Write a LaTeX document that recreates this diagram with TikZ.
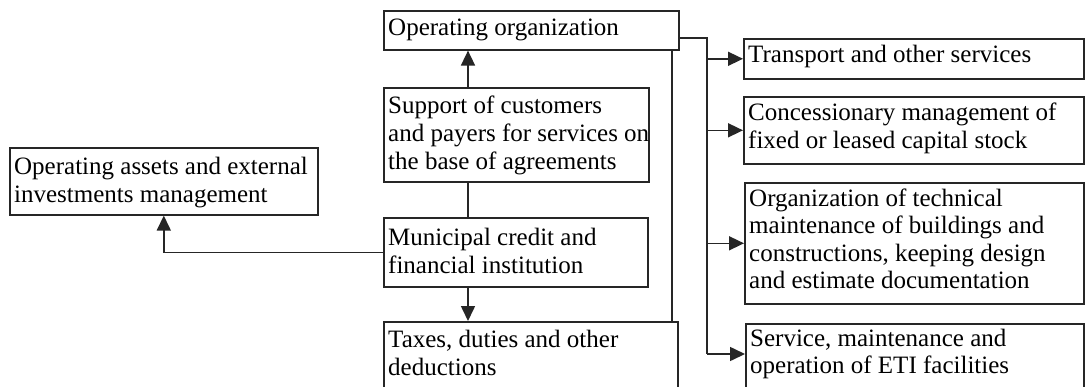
\documentclass[tikz,border=0pt]{standalone}
\usepackage{fontspec}
\setmainfont{Liberation Serif}
\usetikzlibrary{arrows.meta,calc}
\begin{document}
\begin{tikzpicture}[x=1pt,y=-1pt,
  box/.style={draw=black!85, line width=1.6pt, inner sep=0pt, anchor=north west},
  txt/.style={inner sep=0pt, anchor=north west, align=left, text=black,
    font=\fontsize{25}{28}\selectfont},
  conn/.style={draw=black!85, line width=1.6pt},
  arr/.style={conn, -{Triangle[length=15pt,width=14pt]}}]
\useasboundingbox (0,0) rectangle (1085,386);
\fill[white] (0,0) rectangle (1085,386);
\clip (0,0) rectangle (1085,386);
% boxes
\node[box, minimum width=295pt, minimum height=39pt] (oo) at (383,10) {};
\node[box, minimum width=265pt, minimum height=94pt] (sup) at (383,87) {};
\node[box, minimum width=264pt, minimum height=69pt] (mun) at (383,217) {};
\node[box, minimum width=294pt, minimum height=75pt] (tax) at (383,321) {};
\node[box, minimum width=308pt, minimum height=67pt] (ast) at (9,147) {};
\node[box, minimum width=340pt, minimum height=40pt] (trn) at (743,38) {};
\node[box, minimum width=340pt, minimum height=67pt] (con) at (743,96) {};
\node[box, minimum width=339pt, minimum height=121pt] (org) at (744,182) {};
\node[box, minimum width=338pt, minimum height=75pt] (srv) at (745,323) {};
% texts (first baseline = strut top + 19.6)
\node[txt] (oo-t) at ($(oo.north west)+(5,25-19.6)$) {\strut Operating organization};
\node[txt] (sup-t) at ($(sup.north west)+(5,26-19.6)$) {\strut Support of customers\\and payers for services on\\the base of agreements};
\node[txt] (mun-t) at ($(mun.north west)+(5,28-19.6)$) {\strut Municipal credit and\\financial institution};
\node[txt] (tax-t) at ($(tax.north west)+(5,26-19.6)$) {\strut Taxes, duties and other\\deductions};
\node[txt] (ast-t) at ($(ast.north west)+(5,27-19.6)$) {\strut Operating assets and external\\investments management};
\node[txt] (trn-t) at ($(trn.north west)+(5,24-19.6)$) {\strut Transport and other services};
\node[txt] (con-t) at ($(con.north west)+(5,24-19.6)$) {\strut Concessionary management of\\fixed or leased capital stock};
\node[txt, font=\fontsize{25}{27.5}\selectfont] (org-t) at ($(org.north west)+(5,24-19.25)$) {\strut Organization of technical\\maintenance of buildings and\\constructions, keeping design\\and estimate documentation};
\node[txt, font=\fontsize{25}{27.5}\selectfont] (srv-t) at ($(srv.north west)+(5,23-19.25)$) {\strut Service, maintenance and\\operation of ETI facilities};
% helper coordinates
\coordinate (cx) at (468,0);
\coordinate (vx) at (672,0);
\coordinate (bx) at (707,38);
\coordinate (sa) at ($(srv.north west)+(0,31)$);
% connectors
\draw[arr] (sup.north -| cx) -- (oo.south -| cx);
\draw[conn] (sup.south -| cx) -- (mun.north -| cx);
\draw[arr] (mun.south -| cx) -- (tax.north -| cx);
\draw[arr] (mun.west) -| (ast.south);
\draw[conn] (oo.south -| vx) -- (tax.north -| vx);
\draw[conn] (oo.east |- bx) -- (bx) -- (bx |- sa);
\draw[arr] (bx |- trn.west) -- (trn.west);
\draw[arr] (bx |- con.west) -- (con.west);
\draw[arr] (bx |- org.west) -- (org.west);
\draw[arr] (bx |- sa) -- (sa);
\end{tikzpicture}
\end{document}
